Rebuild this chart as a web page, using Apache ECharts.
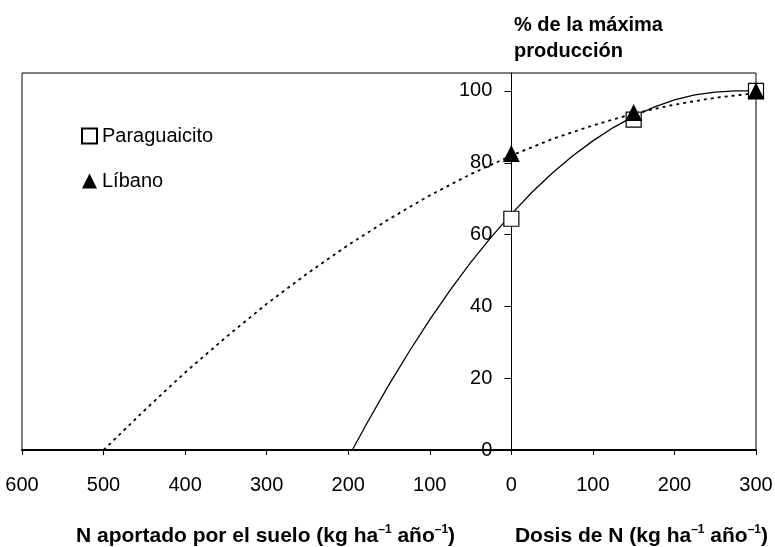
<!DOCTYPE html>
<html>
<head>
<meta charset="utf-8">
<script src="https://cdn.jsdelivr.net/npm/echarts@6/dist/echarts.min.js"></script>
<style>
html,body{margin:0;padding:0;background:#fff;}
#c{width:775px;height:547px;}
</style>
</head>
<body>
<div id="c"></div>
<script>
// ---- data ----
const seriesNames = ['Paraguaicito', 'Líbano'];
const obsX = [0, 150, 300];
const paraObs = [64.4, 92.0, 100];
const libObs = [82.6, 94.0, 100];

const paraCurveX = [-195, -175, -150, -125, -100, -75, -50, -25, 0, 25, 50, 75, 100, 125, 150, 175, 200, 225, 250, 275, 300];
const paraCurveY = [0, 8.3, 18.2, 27.5, 36.3, 44.5, 52.2, 59.2, 65.7, 71.7, 77.1, 81.9, 86.1, 89.8, 92.9, 95.5, 97.5, 98.9, 99.7, 100, 100];

const libCurveX = [-500, -450, -400, -350, -300, -250, -200, -150, -100, -50, 0, 50, 100, 150, 200, 250, 300];
const libCurveY = [0, 11.0, 21.6, 31.4, 40.7, 49.2, 57.1, 64.3, 70.9, 76.8, 82.0, 86.6, 90.4, 93.7, 96.2, 98.1, 99.4];

const yTicks = [0, 20, 40, 60, 80, 100];
const xMin = -600, xMax = 300, xStep = 100;
const yMin = 0, yMax = 105;

const FONT = '"Liberation Sans", Arial, sans-serif';
const zip = (xs, ys) => xs.map((x, i) => [x, ys[i]]);

const GRID = {left: 22, right: 19, top: 73, bottom: 97};
const plotW = 775 - GRID.left - GRID.right;
const yAxisOffset = -plotW * (0 - xMin) / (xMax - xMin);

const chart = echarts.init(document.getElementById('c'), null, {renderer: 'canvas'});

const titleRich = {
  b: {fontSize: 21, fontWeight: 'bold', fontFamily: FONT, color: '#000', lineHeight: 24},
  s: {fontSize: 12, fontWeight: 'bold', fontFamily: FONT, color: '#000', lineHeight: 14, verticalAlign: 'top'}
};

chart.setOption({
  animation: false,
  backgroundColor: '#fff',
  grid: Object.assign({show: true, borderColor: '#000', borderWidth: 1, backgroundColor: 'transparent',
    containLabel: false, outerBoundsMode: 'none'}, GRID),
  legend: {
    orient: 'vertical', left: 76, top: 121, itemWidth: 15, itemHeight: 15, itemGap: 25,
    data: seriesNames,
    textStyle: {fontSize: 20, fontFamily: FONT, color: '#000'}
  },
  xAxis: {
    type: 'value', min: xMin, max: xMax, interval: xStep,
    axisLine: {show: true, onZero: false, lineStyle: {color: '#000', width: 2}},
    axisTick: {show: true, length: 5, lineStyle: {color: '#000', width: 1}},
    axisLabel: {
      fontSize: 20, fontFamily: FONT, color: '#000', margin: 25,
      formatter: v => String(Math.abs(v))
    },
    splitLine: {show: false}
  },
  yAxis: {
    type: 'value', min: yMin, max: yMax, offset: yAxisOffset,
    axisLine: {show: true, onZero: false, lineStyle: {color: '#000', width: 1}},
    axisTick: {show: true, length: 7, customValues: yTicks, lineStyle: {color: '#000'}},
    axisLabel: {
      fontSize: 20, fontFamily: FONT, color: '#000', margin: 19, customValues: yTicks,
      formatter: v => (v % 20 === 0 ? String(v) : '')
    },
    splitLine: {show: false}
  },
  series: [
    {
      name: 'curvaParaguaicito', type: 'line', data: zip(paraCurveX, paraCurveY),
      showSymbol: false, symbol: 'none', lineStyle: {color: '#000', width: 1.3}, z: 2, silent: true
    },
    {
      name: 'curvaLibano', type: 'line', data: zip(libCurveX, libCurveY),
      showSymbol: false, symbol: 'none', lineStyle: {color: '#000', width: 1.8, type: [3, 4]}, z: 2, silent: true
    },
    {
      name: 'Paraguaicito', type: 'scatter', data: zip(obsX, paraObs),
      symbol: 'rect', symbolSize: 15,
      itemStyle: {color: '#fff', borderColor: '#000', borderWidth: 1.2, opacity: 1}, z: 3
    },
    {
      name: 'Líbano', type: 'scatter', data: zip(obsX, libObs),
      symbol: 'triangle', symbolSize: 17,
      itemStyle: {color: '#000', borderColor: '#000', borderWidth: 0, opacity: 1}, z: 4
    }
  ],
  graphic: [
    {
      type: 'text', left: 514, top: 12,
      style: {text: '% de la máxima\nproducción', font: 'bold 20px ' + FONT, fill: '#000', lineHeight: 26}
    },
    {
      type: 'text', left: 76, top: 524,
      style: {text: '{b|N aportado por el suelo (kg ha}{s|–1}{b| año}{s|–1}{b|)}', rich: titleRich}
    },
    {
      type: 'text', right: 7, top: 524,
      style: {text: '{b|Dosis de N (kg ha}{s|–1}{b| año}{s|–1}{b|)}', rich: titleRich}
    }
  ]
});
</script>
</body>
</html>
